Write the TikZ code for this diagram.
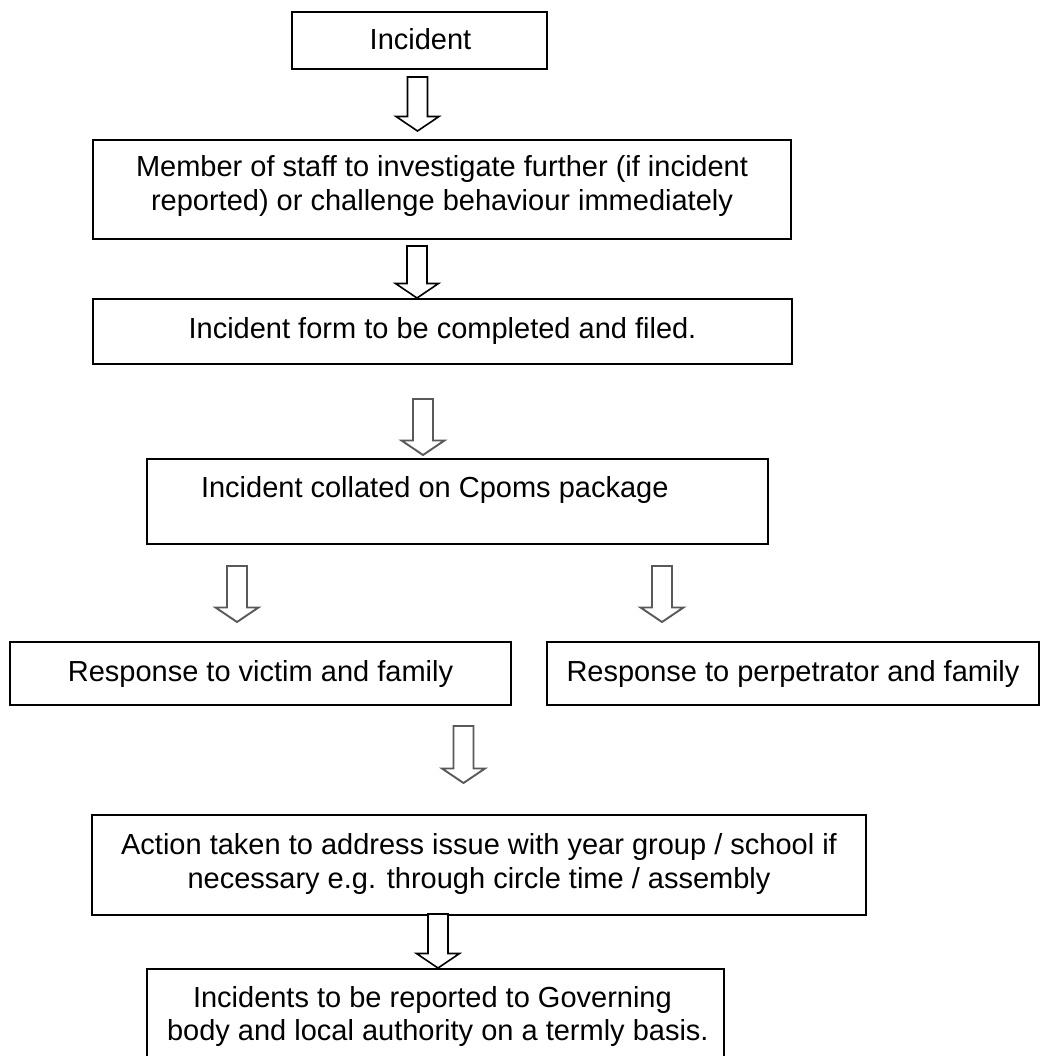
\documentclass[tikz,border=0pt]{standalone}
\usepackage{fontspec}
\setmainfont{Liberation Sans}
\usetikzlibrary{calc}
\newcommand{\blockarr}[3]{%
  \draw[#3] ($(#1)+(-10,0)$) -- ($(#2)+(-10,-14.5)$) -- ($(#2)+(-21.5,-14.5)$) -- (#2)
    -- ($(#2)+(21.5,-14.5)$) -- ($(#2)+(10,-14.5)$) -- ($(#1)+(10,0)$) -- cycle;}
\begin{document}
\begin{tikzpicture}[x=1pt, y=-1pt,
  box/.style={draw, line width=2pt, rectangle, inner sep=0pt, outer sep=0pt},
  txt/.style={inner sep=0pt, outer sep=0pt, font=\fontsize{29}{32}\selectfont},
  arrk/.style={draw=black, line width=1.6pt, fill=white, line join=miter},
  arrg/.style={draw=black!65, line width=1.9pt, fill=white, line join=miter}]
\useasboundingbox (0,0) rectangle (1041,1056);
\clip (0,0) rectangle (1041,1056);

% boxes
\node[box, minimum width=255pt, minimum height=57pt] (b1) at (419.5,40.5) {};
\node[box, minimum width=698pt, minimum height=99pt] (b2) at (442,189.5) {};
\node[box, minimum width=699pt, minimum height=65pt] (b3) at (442.5,331.5) {};
\node[box, minimum width=621pt, minimum height=85pt] (b4) at (457.5,501.5) {};
\node[box, minimum width=501pt, minimum height=63pt] (b5) at (260.5,673.5) {};
\node[box, minimum width=492pt, minimum height=63pt] (b6) at (793,673.5) {};
\node[box, minimum width=774pt, minimum height=100pt] (b7) at (479,864.5) {};
\node[box, minimum width=577pt, minimum height=101pt] (b8) at (435.5,1019) {};

% texts
\node[txt, anchor=base] (t1) at (420.5,50) {Incident};
\node[txt, anchor=base] (t2a) at (442,177) {Member of staff to investigate further (if incident};
\node[txt, anchor=base] (t2b) at (442,211) {reported) or challenge behaviour immediately};
\node[txt, anchor=base] (t3) at (442.5,338) {Incident form to be completed and filed.};
\node[txt, anchor=base west] (t4) at (201,497) {Incident collated on Cpoms package};
\node[txt, anchor=base] (t5) at (260.5,681) {Response to victim and family};
\node[txt, anchor=base] (t6) at (793,681) {Response to perpetrator and family};
\node[txt, anchor=base] (t7a) at (479,854) {Action taken to address issue with year group / school if};
\node[txt, anchor=base] (t7b) at (479,888) {necessary e.g. through circle time / assembly};
\node[txt, anchor=base west] (t8a) at (193,1007) {Incidents to be reported to Governing};
\node[txt, anchor=base west] (t8b) at (167,1040) {body and local authority on a termly basis.};

% arrow end points
\coordinate (a1s) at (417.5,77);  \coordinate (a1e) at (417.5,131);
\coordinate (a2s) at (417,246);   \coordinate (a2e) at (417,298);
\coordinate (a3s) at (423,399);   \coordinate (a3e) at (423,455);
\coordinate (a4s) at (237,566);   \coordinate (a4e) at (237,622);
\coordinate (a5s) at (662,566);   \coordinate (a5e) at (662,622);
\coordinate (a6s) at (463.5,726); \coordinate (a6e) at (463.5,783);
\coordinate (a7s) at (438,914);   \coordinate (a7e) at (438,968);

\blockarr{a1s}{a1e}{arrk}
\blockarr{a2s}{a2e}{arrk}
\blockarr{a3s}{a3e}{arrg}
\blockarr{a4s}{a4e}{arrg}
\blockarr{a5s}{a5e}{arrg}
\blockarr{a6s}{a6e}{arrg}
\blockarr{a7s}{a7e}{arrk}
\end{tikzpicture}
\end{document}
